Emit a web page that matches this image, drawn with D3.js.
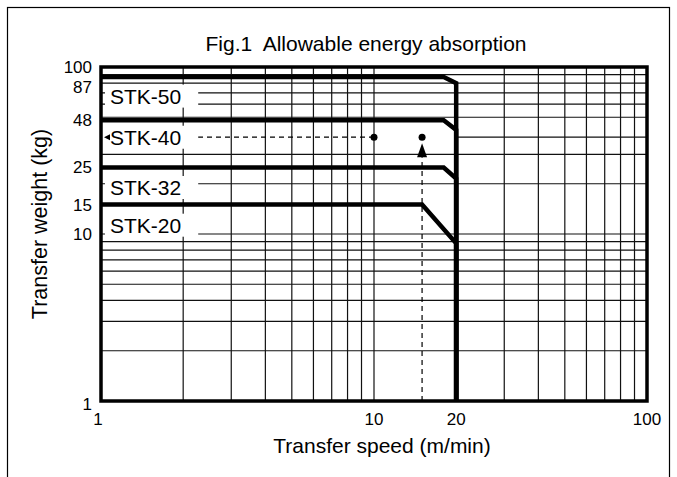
<!DOCTYPE html>
<html>
<head>
<meta charset="utf-8">
<script src="https://cdn.jsdelivr.net/npm/d3@7"></script>
<style>
  body { margin: 0; background: #fff; }
  svg text { font-family: Arial, "Liberation Sans", sans-serif; fill: #000; white-space: pre; }
</style>
</head>
<body>
<script>
// axis ticks and grid
var xTicks = [1, 10, 20, 100];
var yTicks = [100, 87, 48, 25, 15, 10, 1];
var xGrid = [2, 3, 4, 5, 6, 7, 8, 9, 10, 30, 40, 50, 60, 70, 80, 90];
var yGrid = [2, 3, 4, 5, 6, 7, 8, 9, 10, 20, 30, 50, 60, 70, 80, 90];

// one curve per model: flat at maxWeight up to bendSpeed, then down to endWeight at 20 m/min
var models = ['STK-50', 'STK-40', 'STK-32', 'STK-20'];
var maxWeight = [87, 48, 25, 15];
var bendSpeed = [18, 18, 18, 15];
var endWeight = [80, 42, 21.5, 8.8];
var labelWeight = [67, 38, 19, 11.3];
var limitSpeed = 20;

// reading example
var exampleWeight = 38;
var exampleSpeeds = [10, 15];
var arrowTipWeight = 35;

function renderChart() {
  var width = 677, height = 477;
  var margin = { top: 67, right: 30, bottom: 76, left: 101 };

  var x = d3.scaleLog().domain([1, 100]).range([margin.left, width - margin.right]);
  var y = d3.scaleLog().domain([1, 100]).range([height - margin.bottom, margin.top]);

  var svg = d3.select('body').append('svg')
    .attr('width', width)
    .attr('height', height);

  // outer frame
  svg.append('rect')
    .attr('x', 7.5).attr('y', 7.5)
    .attr('width', 662).attr('height', 520)
    .attr('fill', 'none').attr('stroke', '#000').attr('stroke-width', 1.2);

  svg.append('text')
    .attr('x', 366).attr('y', 51)
    .attr('text-anchor', 'middle')
    .style('font-size', '21px')
    .text('Fig.1  Allowable energy absorption');

  // grid
  var grid = svg.append('g').attr('stroke', '#111').attr('stroke-width', 1.2);
  grid.selectAll('.vx').data(xGrid).enter().append('line')
    .attr('x1', function (d) { return x(d); }).attr('x2', function (d) { return x(d); })
    .attr('y1', y(1)).attr('y2', y(100));
  grid.selectAll('.hy').data(yGrid).enter().append('line')
    .attr('y1', function (d) { return y(d); }).attr('y2', function (d) { return y(d); })
    .attr('x1', x(1)).attr('x2', x(100));
  grid.append('line')
    .attr('x1', x(limitSpeed)).attr('x2', x(100))
    .attr('y1', y(exampleWeight)).attr('y2', y(exampleWeight));

  // example reading: dashed line back to the weight axis
  svg.append('line')
    .attr('x1', x(exampleSpeeds[0])).attr('x2', x(1) + 8)
    .attr('y1', y(exampleWeight)).attr('y2', y(exampleWeight))
    .attr('stroke', '#000').attr('stroke-width', 1.2)
    .attr('stroke-dasharray', '5,4');

  // label boxes hide the grid behind the model names
  var labels = svg.append('g');
  var labelText = labels.selectAll('text').data(models).enter().append('text')
    .attr('x', x(1) + 9)
    .attr('y', function (d, i) { return y(labelWeight[i]); })
    .attr('dy', '0.36em')
    .style('font-size', '21px')
    .text(function (d) { return d; });
  labelText.each(function () {
    var b = this.getBBox();
    labels.insert('rect', 'text')
      .attr('x', x(1) + 4).attr('y', b.y)
      .attr('width', b.x + b.width + 17 - x(1) - 4).attr('height', b.height)
      .attr('fill', '#fff');
  });

  // small arrow head pointing at the weight axis
  svg.append('path')
    .attr('d', d3.line()([
      [x(1) + 9, y(exampleWeight) - 3],
      [x(1) + 3, y(exampleWeight)],
      [x(1) + 9, y(exampleWeight) + 3]
    ]) + 'Z')
    .attr('fill', '#000');

  // vertical reading line with arrow
  svg.append('line')
    .attr('x1', x(exampleSpeeds[1])).attr('x2', x(exampleSpeeds[1]))
    .attr('y1', y(1)).attr('y2', y(arrowTipWeight) + 14)
    .attr('stroke', '#000').attr('stroke-width', 1.2)
    .attr('stroke-dasharray', '5,4');
  svg.append('path')
    .attr('d', d3.line()([
      [x(exampleSpeeds[1]) - 5, y(arrowTipWeight) + 14],
      [x(exampleSpeeds[1]), y(arrowTipWeight)],
      [x(exampleSpeeds[1]) + 5, y(arrowTipWeight) + 14]
    ]) + 'Z')
    .attr('fill', '#000');
  svg.selectAll('.dot').data(exampleSpeeds).enter().append('circle')
    .attr('cx', function (d) { return x(d); })
    .attr('cy', y(exampleWeight))
    .attr('r', 3.5)
    .attr('fill', '#000');

  // model curves
  var line = d3.line()
    .x(function (d) { return x(d[0]); })
    .y(function (d) { return y(d[1]); });
  svg.selectAll('.curve').data(models).enter().append('path')
    .attr('d', function (d, i) {
      return line([[1, maxWeight[i]], [bendSpeed[i], maxWeight[i]],
        [limitSpeed, endWeight[i]], [limitSpeed, 1]]);
    })
    .attr('fill', 'none').attr('stroke', '#000')
    .attr('stroke-width', 4.5).attr('stroke-linejoin', 'miter');

  // plot frame
  svg.append('rect')
    .attr('x', x(1)).attr('y', y(100))
    .attr('width', x(100) - x(1)).attr('height', y(1) - y(100))
    .attr('fill', 'none').attr('stroke', '#000').attr('stroke-width', 3.5);

  // tick labels
  svg.selectAll('.xt').data(xTicks).enter().append('text')
    .attr('x', function (d) { return x(d) - (d === 1 ? 3 : 0); })
    .attr('y', y(1) + 24)
    .attr('text-anchor', 'middle')
    .style('font-size', '17px')
    .text(function (d) { return d; });
  svg.selectAll('.yt').data(yTicks).enter().append('text')
    .attr('x', x(1) - 9)
    .attr('y', function (d) { return y(d) + (d === 87 ? 10 : 0) + (d === 1 ? 3 : 0); })
    .attr('dy', '0.35em')
    .attr('text-anchor', 'end')
    .style('font-size', '17px')
    .text(function (d) { return d; });

  svg.append('text')
    .attr('x', 382).attr('y', 453)
    .attr('text-anchor', 'middle')
    .style('font-size', '21px')
    .text('Transfer speed (m/min)');
  svg.append('text')
    .attr('transform', 'translate(47,224) rotate(-90)')
    .attr('text-anchor', 'middle')
    .style('font-size', '21.5px')
    .text('Transfer weight (kg)');
}

renderChart();
</script>
</body>
</html>
